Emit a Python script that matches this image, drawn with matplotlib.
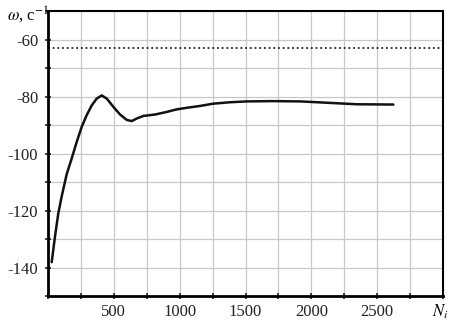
import numpy as np
import matplotlib
matplotlib.use("Agg")
import matplotlib.pyplot as plt

# curve
n_i = [28, 53, 78, 104, 142, 180, 218, 256, 294, 332, 370, 408, 446, 496,
       547, 598, 636, 674, 724, 813, 901, 977, 1060, 1154, 1254, 1380, 1509,
       1700, 1914, 2089, 2344, 2623]
omega = [-138.1, -129.1, -121.0, -115.0, -107.2, -101.7, -95.9, -90.6, -86.5,
         -83.1, -80.7, -79.6, -80.7, -83.6, -86.3, -88.2, -88.6, -87.7, -86.8,
         -86.3, -85.4, -84.5, -83.9, -83.3, -82.5, -82.0, -81.7, -81.6, -81.7,
         -82.1, -82.7, -82.8]
omega_ref = -63.0

x_ticks = [500, 1000, 1500, 2000, 2500]
y_ticks = [-140, -120, -100, -80, -60]

plt.rcParams['font.family'] = ['Liberation Serif', 'DejaVu Serif']
plt.rcParams['mathtext.fontset'] = 'stix'

fig = plt.figure(figsize=(4.53, 3.25), dpi=100)
ax = fig.add_axes([0.106, 0.089, 0.872, 0.877])

ax.plot(n_i, omega, color="#111111", lw=1.8, solid_capstyle="round",
        solid_joinstyle="round")
ax.axhline(omega_ref, color="#222222", lw=1.3, ls=(0, (1, 1.6)))

ax.set_xlim(0, 3000)
ax.set_ylim(-150, -50)
ax.set_xticks(np.arange(0, 3001, 250), minor=True)
ax.set_xticks(x_ticks)
ax.set_yticks(np.arange(-150, -49, 10), minor=True)
ax.set_yticks(y_ticks)
ax.set_xticklabels([str(v) for v in x_ticks])
ax.set_yticklabels([str(v) for v in y_ticks])
ax.grid(True, which="both", color="#c8c8c8", lw=0.9)
ax.tick_params(which="both", direction="inout", length=4, width=1.2,
               labelsize=12, colors="#222222")
ax.tick_params(axis="x", pad=4)
ax.tick_params(axis="y", pad=5)

for side in ["left", "bottom"]:
    ax.spines[side].set_linewidth(2.0)
for side in ["right", "top"]:
    ax.spines[side].set_linewidth(1.5)

fig.text(0.015, 0.955, r"$\omega$, с$^{-1}$", fontsize=12, ha="left", va="center")
fig.text(0.99, 0.04, r"$N_i$", fontsize=12, ha="right", va="center")

fig.savefig("out.png", dpi=100)
